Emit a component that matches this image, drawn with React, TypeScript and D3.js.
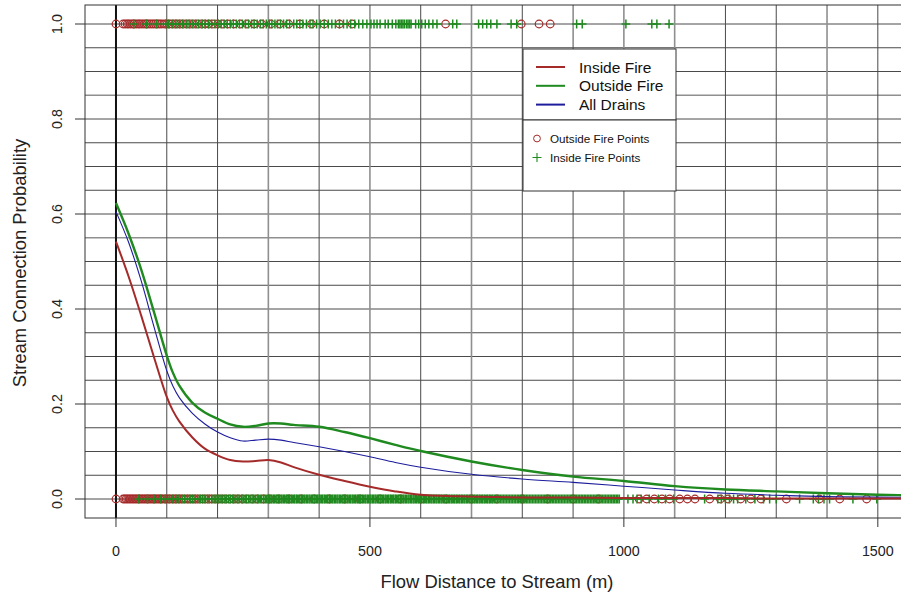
import React from "react";
import * as d3 from "d3";

// Fitted connection probability curves, sampled along flow distance (m)
const distanceKnots = [0, 25, 50, 75, 100, 112, 125, 150, 175, 200, 225, 250, 275, 300, 325, 350, 400, 450, 500, 550, 600, 700, 800, 900, 1000, 1100, 1200, 1300, 1400, 1500, 1600];
const insideFireProb = [0.542, 0.468, 0.385, 0.298, 0.215, 0.186, 0.163, 0.13, 0.106, 0.092, 0.082, 0.079, 0.08, 0.082, 0.077, 0.067, 0.051, 0.038, 0.026, 0.016, 0.009, 0.005, 0.003, 0.003, 0.002, 0.002, 0.002, 0.001, 0.001, 0.001, 0.001];
const outsideFireProb = [0.623, 0.558, 0.482, 0.393, 0.302, 0.266, 0.238, 0.203, 0.182, 0.169, 0.157, 0.152, 0.154, 0.159, 0.159, 0.156, 0.152, 0.141, 0.128, 0.114, 0.101, 0.079, 0.061, 0.047, 0.038, 0.027, 0.02, 0.016, 0.012, 0.009, 0.007];
const allDrainsProb = [0.605, 0.54, 0.458, 0.362, 0.27, 0.238, 0.213, 0.181, 0.158, 0.141, 0.129, 0.122, 0.124, 0.126, 0.124, 0.119, 0.11, 0.1, 0.089, 0.077, 0.067, 0.052, 0.042, 0.035, 0.027, 0.019, 0.012, 0.008, 0.005, 0.004, 0.003];

// Observed drains: connected (1) and not connected (0)
const outsideConnected = [0, 14, 18, 22, 25, 29, 33, 36, 40, 44, 47, 51, 55, 59, 62, 66, 70, 74, 78, 82, 86, 90, 95, 100, 105, 110, 116, 121, 127, 133, 140, 146, 153, 160, 168, 175, 183, 191, 200, 210, 220, 232, 245, 258, 272, 287, 305, 322, 340, 362, 385, 410, 440, 465, 649, 798, 833, 855];
const insideConnected = [35, 60, 80, 98, 104, 112, 118, 125, 131, 138, 144, 150, 157, 163, 170, 176, 182, 188, 195, 201, 207, 213, 219, 225, 231, 237, 243, 249, 255, 261, 267, 272, 278, 284, 290, 296, 302, 307, 313, 318, 324, 330, 336, 342, 350, 356, 362, 368, 375, 382, 388, 395, 402, 410, 418, 425, 432, 440, 448, 455, 462, 470, 478, 486, 494, 502, 508, 514, 520, 530, 536, 544, 551, 556, 559, 562, 565, 568, 572, 575, 578, 581, 590, 596, 602, 609, 616, 624, 632, 663, 671, 714, 722, 730, 738, 750, 778, 789, 907, 918, 1004, 1055, 1065, 1089];
const outsideUnconnected = [0, 14, 17, 20, 23, 26, 29, 32, 35, 38, 41, 44, 47, 50, 53, 56, 59, 62, 65, 68, 71, 74, 77, 80, 83, 86, 89, 92, 96, 100, 104, 108, 112, 116, 120, 124, 128, 133, 138, 143, 148, 153, 158, 164, 170, 176, 182, 188, 195, 202, 209, 216, 224, 232, 240, 249, 258, 268, 278, 290, 302, 320, 340, 365, 390, 420, 450, 480, 520, 560, 600, 650, 700, 750, 800, 850, 900, 950, 1030, 1045, 1060, 1075, 1090, 1110, 1125, 1140, 1169, 1190, 1205, 1230, 1250, 1270, 1320, 1385, 1425, 1478];
const insideUnconnected = [45, 62, 75, 88, 97, 105, 112, 118, 124, 130, 135, 141, 146, 151, 156, 161, 166, 171, 175, 180, 184, 189, 193, 197, 201, 205, 209, 213, 217, 221, 225, 229, 232, 236, 240, 243, 247, 250, 254, 257, 261, 264, 268, 271, 274, 278, 281, 284, 287, 291, 294, 297,
  300, 302, 305, 307, 310, 312, 315, 317, 320, 322, 325, 327, 330, 332, 335, 337, 340, 342, 345, 347, 350, 352, 355, 357, 360, 362, 365, 367, 370, 372, 375, 377, 380, 382, 385, 387, 390, 392, 395, 397,
  400, 402, 405, 407, 410, 412, 415, 417, 420, 422, 425, 427, 430, 432, 435, 437, 440, 442, 445, 447, 450, 452, 455, 457, 460, 462, 465, 467, 470, 472, 475, 477, 480, 482, 485, 487, 490, 492, 495, 497,
  500, 502, 505, 507, 510, 512, 515, 517, 520, 522, 525, 527, 530, 532, 535, 537, 540, 542, 545, 547, 550, 552, 555, 557, 560, 562, 565, 567, 570, 572, 575, 577, 580, 582, 585, 587, 590, 592, 595, 597,
  600, 602, 605, 607, 610, 612, 615, 617, 620, 622, 625, 627, 630, 632, 635, 637, 640, 642, 645, 647, 650, 652, 655, 657, 660, 662, 665, 667, 670, 672, 675, 677, 680, 682, 685, 687, 690, 692, 695, 697,
  700, 702, 705, 707, 710, 712, 715, 717, 720, 722, 725, 727, 730, 732, 735, 737, 740, 742, 745, 748, 751, 754, 757, 760, 763, 766, 769, 772, 775, 778, 781, 784, 787, 790, 793, 796, 799,
  802, 805, 808, 811, 814, 817, 820, 823, 826, 829, 832, 835, 838, 841, 844, 847, 850, 853, 856, 859, 862, 865, 868, 871, 874, 877, 880, 883, 886, 889, 892, 895, 898,
  901, 904, 907, 910, 913, 916, 919, 922, 925, 928, 931, 934, 937, 940, 943, 946, 949, 952, 955, 958, 961, 964, 967, 970, 973, 976, 979, 982, 985, 988, 991,
  1008, 1018, 1026, 1034, 1050, 1068, 1082, 1098, 1159, 1185, 1192, 1200, 1208, 1216, 1224, 1240, 1258, 1275, 1287, 1300, 1346, 1373, 1383, 1394, 1405, 1451, 1498];

const xTicks = [0, 500, 1000, 1500];
const yTicks = [0, 0.2, 0.4, 0.6, 0.8, 1.0];
const vGrid = [0, 100, 200, 300, 400, 500, 600, 700, 800, 900, 1000, 1100, 1200, 1300, 1400, 1500];
const vGridLight = [300, 500, 700, 1000, 1100, 1400];
const hGrid = [0, 0.05, 0.1, 0.15, 0.2, 0.25, 0.3, 0.35, 0.4, 0.45, 0.5, 0.55, 0.6, 0.65, 0.7, 0.75, 0.8, 0.85, 0.9, 0.95, 1.0];
const hGridLight = [0.55, 0.85];

const curveNames = ["Inside Fire", "Outside Fire", "All Drains"];
const pointNames = ["Outside Fire Points", "Inside Fire Points"];

const RED = "#a52a2a";
const GREEN = "#1f8a1f";
const BLUE = "#1c1c9c";
const FONT = "'Liberation Sans', Arial, Helvetica, sans-serif";

const W = 901;
const H = 594;
const box = { left: 85, right: 922, top: 5, bottom: 518 };

export default function App() {
  const x = d3.scaleLinear().domain([-61, 1587]).range([box.left, box.right]);
  const y = d3.scaleLinear().domain([-0.04, 1.04]).range([box.bottom, box.top]);

  const line = (vals: number[]) =>
    d3
      .line<number>()
      .x((_, i) => x(distanceKnots[i]))
      .y((v) => y(v))
      .curve(d3.curveCatmullRom.alpha(0.5))(vals) || "";

  const circles = (xs: number[], yv: number, key: string) =>
    xs.map((d, i) => (
      <circle key={key + i} cx={x(d)} cy={y(yv)} r={3.8} fill="none" stroke={RED} strokeWidth={1.2} />
    ));
  const pluses = (xs: number[], yv: number, key: string) =>
    xs.map((d, i) => {
      const cx = x(d);
      const cy = y(yv);
      return (
        <path
          key={key + i}
          d={`M${cx - 4.3},${cy}H${cx + 4.3}M${cx},${cy - 4.5}V${cy + 4.5}`}
          stroke={GREEN}
          strokeWidth={1.5}
          fill="none"
        />
      );
    });

  const legendColors = [RED, GREEN, BLUE];

  return (
    <svg
      width={W}
      height={H}
      style={{ position: "absolute", left: 0, top: 0, background: "#fff" }}
      fontFamily={FONT}
    >
      <defs>
        <clipPath id="plotArea">
          <rect x={box.left} y={box.top} width={box.right - box.left} height={box.bottom - box.top} />
        </clipPath>
      </defs>
      <rect x={0} y={0} width={W} height={H} fill="#fff" />

      {/* grid */}
      <g clipPath="url(#plotArea)">
        {hGrid.map((v) => {
          const light = hGridLight.includes(v);
          return (
            <line
              key={"h" + v}
              x1={box.left}
              x2={box.right}
              y1={y(v)}
              y2={y(v)}
              stroke={light ? "#8f8f8f" : "#4a4a4a"}
              strokeWidth={light ? 1.6 : 1}
            />
          );
        })}
        {vGrid.map((v) => {
          const light = vGridLight.includes(v);
          return (
            <line
              key={"v" + v}
              x1={x(v)}
              x2={x(v)}
              y1={box.top}
              y2={box.bottom}
              stroke={v === 0 ? "#111" : light ? "#8f8f8f" : "#4a4a4a"}
              strokeWidth={v === 0 ? 2 : light ? 1.6 : 1}
            />
          );
        })}
      </g>

      {/* plot frame */}
      <rect
        x={box.left}
        y={box.top}
        width={box.right - box.left}
        height={box.bottom - box.top}
        fill="none"
        stroke="#333"
        strokeWidth={1}
      />

      {/* axes */}
      {xTicks.map((t) => (
        <g key={"xt" + t}>
          <line x1={x(t)} x2={x(t)} y1={box.bottom} y2={box.bottom + 9} stroke="#333" />
          <text x={x(t)} y={556} fontSize={14.3} textAnchor="middle" fill="#222">
            {t}
          </text>
        </g>
      ))}
      {yTicks.map((t) => (
        <g key={"yt" + t}>
          <line x1={box.left - 10} x2={box.left} y1={y(t)} y2={y(t)} stroke="#333" />
          <text
            transform={`translate(62,${y(t)}) rotate(-90)`}
            fontSize={14.3}
            textAnchor="middle"
            fill="#222"
          >
            {t.toFixed(1)}
          </text>
        </g>
      ))}
      <text x={497} y={588} fontSize={18.4} textAnchor="middle" fill="#222">
        Flow Distance to Stream (m)
      </text>
      <text transform={`translate(25.5,263) rotate(-90)`} fontSize={18.4} textAnchor="middle" fill="#222">
        Stream Connection Probability
      </text>

      {/* observations */}
      <g clipPath="url(#plotArea)">
        {circles(outsideConnected, 1, "oc")}
        {pluses(insideConnected, 1, "ic")}
        {circles(outsideUnconnected, 0, "ou")}
        {pluses(insideUnconnected, 0, "iu")}

        {/* fitted curves */}
        <path d={line(outsideFireProb)} fill="none" stroke={GREEN} strokeWidth={2.4} />
        <path d={line(allDrainsProb)} fill="none" stroke={BLUE} strokeWidth={1.1} />
        <path d={line(insideFireProb)} fill="none" stroke={RED} strokeWidth={2} />
      </g>

      {/* legend: curves */}
      <rect x={523} y={49} width={153} height={71} fill="#fff" stroke="#333" />
      {curveNames.map((name, i) => {
        const ly = 67 + i * 18.8;
        return (
          <g key={name}>
            <line x1={536} x2={565} y1={ly} y2={ly} stroke={legendColors[i]} strokeWidth={2} />
            <text x={579} y={ly + 5.5} fontSize={15.5} fill="#111">
              {name}
            </text>
          </g>
        );
      })}

      {/* legend: points */}
      <rect x={523} y={120} width={153} height={71} fill="#fff" stroke="#333" />
      <circle cx={537} cy={138.5} r={3.4} fill="none" stroke={RED} strokeWidth={1} />
      <path d="M532.5,157.5H541.5M537,153V162" stroke={GREEN} strokeWidth={1.1} />
      {pointNames.map((name, i) => (
        <text key={name} x={550} y={142.5 + i * 19} fontSize={11.7} fill="#111">
          {name}
        </text>
      ))}
    </svg>
  );
}
